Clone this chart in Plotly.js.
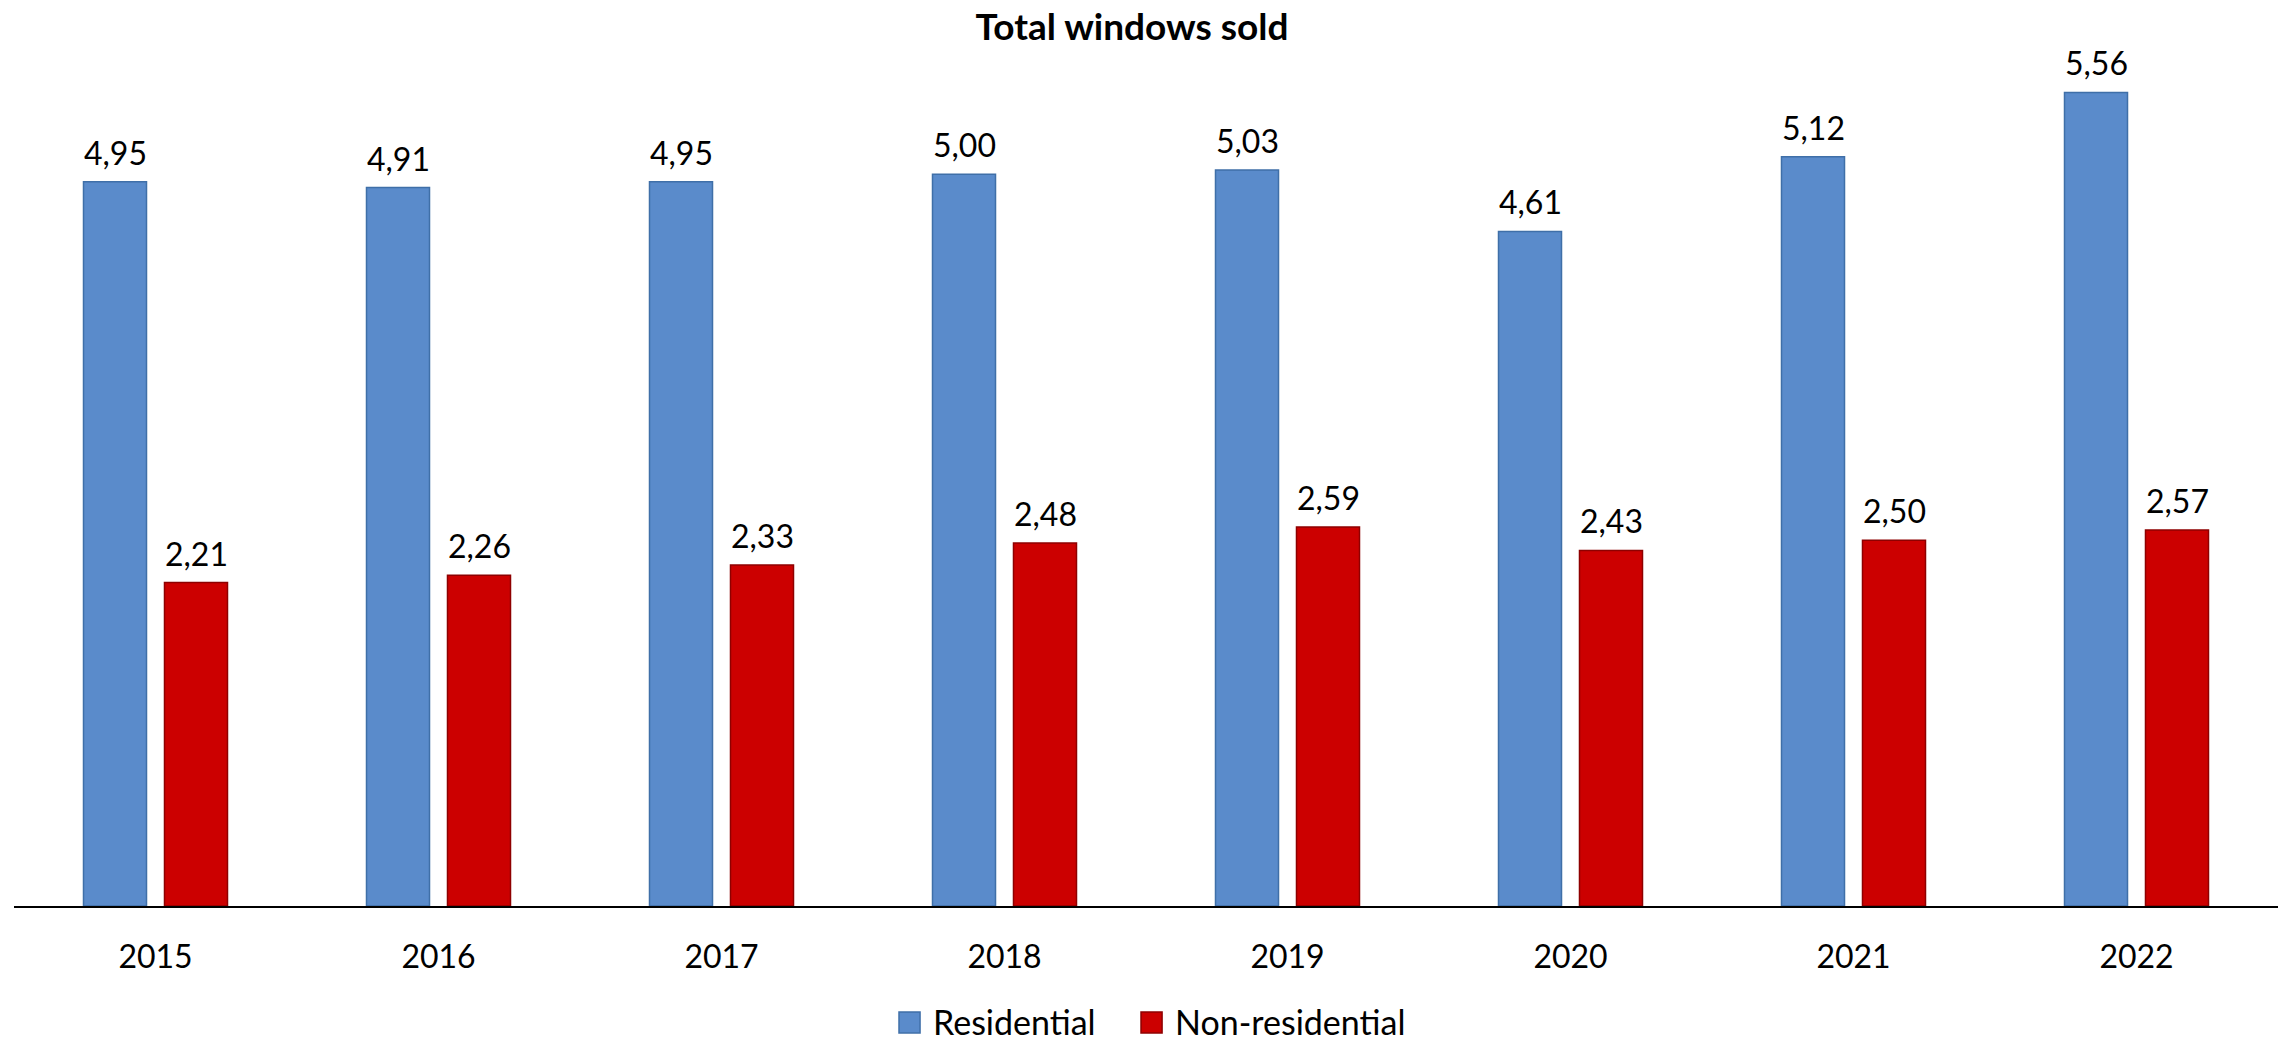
<!DOCTYPE html>
<html>
<head>
<meta charset="utf-8">
<script src="https://cdn.plot.ly/plotly-3.0.1.min.js"></script>
<style>
  html, body { margin: 0; padding: 0; background: #ffffff; }
  #chart { width: 2282px; height: 1041px; }
</style>
</head>
<body>
<div id="chart"></div>
<script>
const years = ['2015', '2016', '2017', '2018', '2019', '2020', '2021', '2022'];
const residential = [4.95, 4.91, 4.95, 5.00, 5.03, 4.61, 5.12, 5.56];
const nonResidential = [2.21, 2.26, 2.33, 2.48, 2.59, 2.43, 2.50, 2.57];
const seriesNames = ['Residential', 'Non-residential'];
const chartTitle = 'Total windows sold';

const FONT = 'Lato, "Open Sans", sans-serif';
const LABEL_SIZE = 32;
const COLORS = ['#5A8BCB', '#CC0000'];
const EDGES = ['#3F6FA8', '#8E0000'];

function fmt(v) {
  return v.toFixed(2).replace('.', ',');
}

const traces = [
  {
    type: 'bar',
    name: seriesNames[0],
    x: years,
    y: residential,
    marker: { color: COLORS[0], line: { color: EDGES[0], width: 1.5 } },
    hoverinfo: 'x+y'
  },
  {
    type: 'bar',
    name: seriesNames[1],
    x: years,
    y: nonResidential,
    marker: { color: COLORS[1], line: { color: EDGES[1], width: 1.5 } },
    hoverinfo: 'x+y'
  }
];

// value labels above each bar (category index, shifted half a bar slot left / right)
const annotations = [];
[[residential, -40.5], [nonResidential, 40.5]].forEach(([vals, shift]) => {
  vals.forEach((v, i) => {
    annotations.push({
      x: i,
      y: v,
      xref: 'x',
      yref: 'y',
      text: fmt(v),
      showarrow: false,
      xanchor: 'center',
      yanchor: 'bottom',
      xshift: shift,
      yshift: 8,
      font: { family: FONT, size: LABEL_SIZE, color: '#000000' }
    });
  });
});

// legend drawn below the axis: square swatch + label for each series
const legendItems = [
  { swatch: [0.3909, 0.4002], textX: 0.4050 },
  { swatch: [0.4978, 0.5071], textX: 0.5119 }
];
const shapes = [];
legendItems.forEach((it, k) => {
  shapes.push({
    type: 'rect',
    xref: 'paper', yref: 'paper',
    x0: it.swatch[0], x1: it.swatch[1],
    y0: -0.1446, y1: -0.1207,
    fillcolor: COLORS[k],
    line: { color: EDGES[k], width: 1.5 }
  });
  annotations.push({
    x: it.textX,
    y: -0.1321,
    xref: 'paper', yref: 'paper',
    text: seriesNames[k],
    showarrow: false,
    xanchor: 'left',
    yanchor: 'middle',
    font: { family: FONT, size: 34, color: '#000000' }
  });
});

const layout = {
  width: 2282,
  height: 1041,
  paper_bgcolor: '#ffffff',
  plot_bgcolor: '#ffffff',
  separators: ',.',
  font: { family: FONT, size: 32, color: '#000000' },
  title: {
    text: '<b>' + chartTitle + '</b>',
    font: { family: FONT, size: 37, color: '#000000' },
    x: 1132 / 2282,
    xanchor: 'center',
    xref: 'container',
    y: 1 - 27 / 1041,
    yref: 'container',
    yanchor: 'middle'
  },
  margin: { l: 14, r: 4, t: 28, b: 135, pad: 0, autoexpand: false },
  barmode: 'group',
  bargap: 0.4276,
  bargroupgap: 0.222,
  xaxis: {
    type: 'category',
    range: [-0.5, years.length - 0.5],
    autorange: false,
    showline: true,
    linecolor: '#000000',
    linewidth: 2,
    ticks: '',
    showgrid: false,
    zeroline: false,
    automargin: false,
    ticklabelstandoff: 22,
    tickfont: { family: FONT, size: 32, color: '#000000' }
  },
  yaxis: {
    range: [0, 6],
    autorange: false,
    showgrid: false,
    zeroline: false,
    showline: false,
    showticklabels: false,
    automargin: false,
    ticks: ''
  },
  annotations: annotations,
  shapes: shapes,
  showlegend: false
};

Plotly.newPlot('chart', traces, layout, { displayModeBar: false, staticPlot: true });
</script>
</body>
</html>
